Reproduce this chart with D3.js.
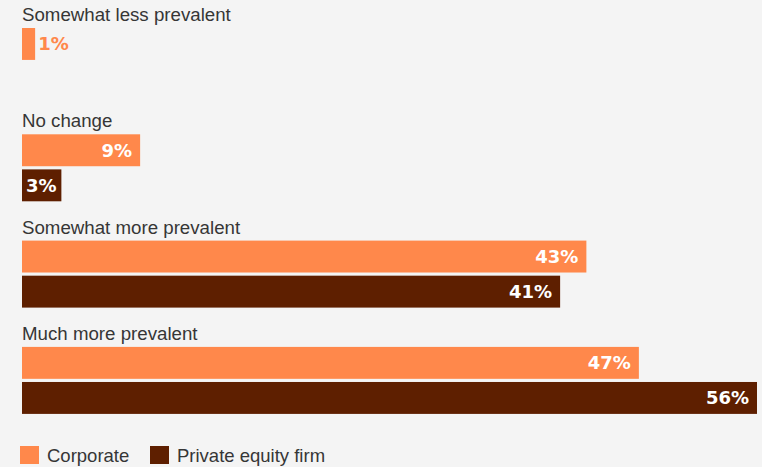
<!DOCTYPE html>
<html>
<head>
<meta charset="utf-8">
<script src="https://cdn.jsdelivr.net/npm/d3@7"></script>
<style>
  html, body { margin: 0; padding: 0; background: #f4f4f4; }
  svg { display: block; }
  .cat-label { font-family: "Liberation Sans", Arial, sans-serif; font-size: 18.7px; fill: #363636; }
  .val-label { font-family: "DejaVu Sans", sans-serif; font-weight: bold; font-size: 18px; }
  .legend-text { font-family: "Liberation Sans", Arial, sans-serif; font-size: 18.5px; fill: #363636; }
</style>
</head>
<body>
<div id="chart"></div>
<script>
// data
const categories = ['Somewhat less prevalent', 'No change', 'Somewhat more prevalent', 'Much more prevalent'];
const seriesNames = ['Corporate', 'Private equity firm'];
const corporate = [1, 9, 43, 47];
const privateEquity = [0, 3, 41, 56];
const colors = ['#ff884b', '#5e1f00'];

const width = 762, height = 467;

const svg = d3.select('#chart').append('svg')
    .attr('width', width)
    .attr('height', height);

const x = d3.scaleLinear().domain([0, 56]).range([22, 757]);
const y = d3.scaleBand().domain(categories).range([28, 28 + 4 * 106.3]);
const ySub = d3.scaleBand().domain(seriesNames).range([0, 67]).paddingInner(0.09);
const color = d3.scaleOrdinal().domain(seriesNames).range(colors);

const rows = categories.map((c, i) => ({
    category: c,
    values: [
        { series: seriesNames[0], value: corporate[i] },
        { series: seriesNames[1], value: privateEquity[i] }
    ].filter(d => d.value > 0)
}));

const group = svg.selectAll('.group')
    .data(rows)
    .enter().append('g')
    .attr('class', 'group')
    .attr('transform', d => `translate(0,${y(d.category)})`);

// category labels
group.append('text')
    .attr('class', 'cat-label')
    .attr('x', 22)
    .attr('y', -7)
    .text(d => d.category);

// bars
const bar = group.selectAll('.bar')
    .data(d => d.values)
    .enter().append('g')
    .attr('class', 'bar');

bar.append('rect')
    .attr('x', x(0))
    .attr('y', d => ySub(d.series))
    .attr('width', d => x(d.value) - x(0))
    .attr('height', ySub.bandwidth())
    .attr('fill', d => color(d.series));

// value labels: inside for wide bars, outside for tiny ones
bar.append('text')
    .attr('class', 'val-label')
    .attr('x', d => d.value >= 5 ? x(d.value) - 8 : (d.value >= 3 ? x(0) + 4 : x(d.value) + 3))
    .attr('y', d => ySub(d.series) + ySub.bandwidth() / 2)
    .attr('dy', '0.36em')
    .attr('text-anchor', d => d.value >= 5 ? 'end' : 'start')
    .attr('fill', d => d.value >= 3 ? '#fff' : color(d.series))
    .text(d => d.value + '%');

// legend
const legend = svg.append('g').attr('transform', 'translate(20,446)');
const legendX = [0, 130];
const item = legend.selectAll('.item')
    .data(seriesNames)
    .enter().append('g')
    .attr('class', 'item')
    .attr('transform', (d, i) => `translate(${legendX[i]},0)`);

item.append('rect')
    .attr('width', 19)
    .attr('height', 18)
    .attr('fill', d => color(d));

item.append('text')
    .attr('class', 'legend-text')
    .attr('x', 27)
    .attr('y', 16)
    .text(d => d);
</script>
</body>
</html>
